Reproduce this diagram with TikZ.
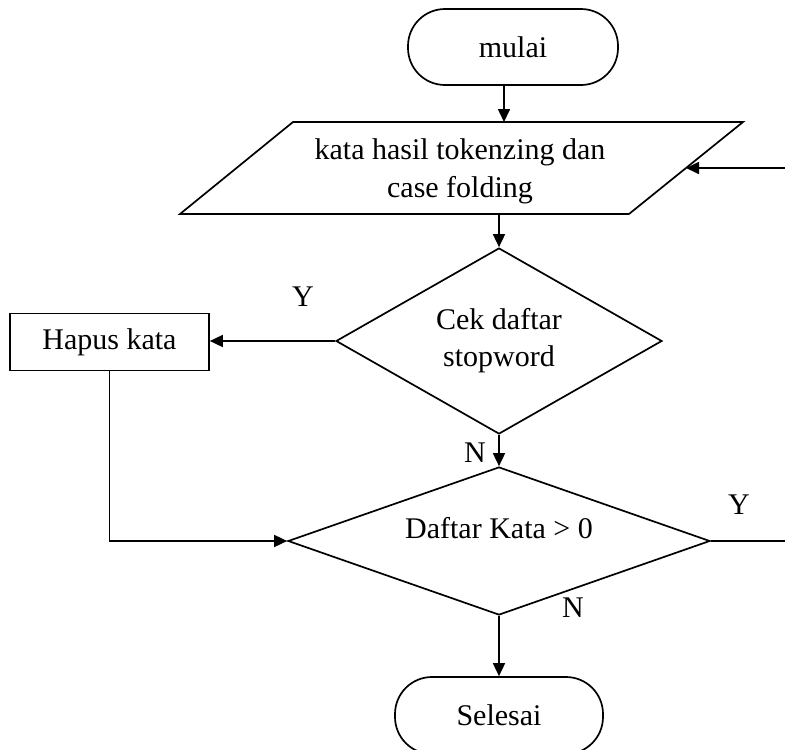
\documentclass[tikz,border=0pt]{standalone}
\usepackage{fontspec}
\setmainfont{Liberation Serif}
\usetikzlibrary{shapes.geometric, arrows.meta, calc}

\begin{document}
\begin{tikzpicture}[x=1pt, y=-1pt,
  every node/.style={font=\fontsize{30}{38}\selectfont},
  base/.style={draw, line width=1.7pt, inner sep=0pt},
  terminal/.style={base, rectangle, rounded corners=37pt},
  process/.style={base, rectangle},
  decision/.style={base, diamond, shape aspect=1.75, align=center},
  conn/.style={line width=1.7pt},
  outline/.style={conn, line join=miter},
  arrow/.style={conn, -{Triangle[length=13pt, width=12pt]}},
  tag/.style={inner sep=0pt}]

\useasboundingbox (0,0) rectangle (785,750);

% input/output parallelogram
\coordinate (pTL) at (293,122);
\coordinate (pTR) at (743,122);
\coordinate (pBR) at (629,214);
\coordinate (pBL) at (180,214);
\draw[outline] (pTL) -- (pTR) -- (pBR) -- (pBL) -- cycle;
\node[align=center, inner sep=0pt] (input) at (460,171) {kata hasil tokenzing dan\\case folding};
\coordinate (inputSide) at ($(pTR)!0.5!(pBR)$);

% other shapes
\node[terminal, minimum width=210pt, minimum height=76pt] (start) at (513,47) {mulai};
\node[decision, minimum width=326pt, minimum height=186pt,
  font=\fontsize{30}{37}\selectfont] (check) at (499,341) {Cek daftar\\stopword};
\node[process, minimum width=199pt, minimum height=57pt] (remove) at (109.5,342) {Hapus kata};
\node[decision, minimum width=422pt, minimum height=148pt,
  label={[yshift=13pt]center:Daftar Kata > 0}] (count) at (499,541) {};
\node[terminal, minimum width=208pt, minimum height=77pt] (stop) at (499,715.5) {Selesai};

% loop ends leaving the sheet on the right
\coordinate (backIn) at (785,168);
\coordinate (backOut) at (785,541);

% connectors
\draw[arrow] ([xshift=-9pt]start.south) -- ([xshift=-9pt]start.south |- pTL);
\draw[arrow] (check.north |- pBL) -- (check.north);
\draw[arrow] (check.west) -- (check.west -| remove.east);
\draw[arrow] (check.south) -- (count.north);
\draw[arrow] (remove.south) |- (count.west);
\draw[conn] (count.east) -- (backOut);
\draw[arrow] (backIn) -- (inputSide);
\draw[arrow] (count.south) -- (stop.north);

% branch labels
\node[tag] (yesA) at (303,297) {Y};
\node[tag] (noA) at (475,453) {N};
\node[tag] (yesB) at (739,505) {Y};
\node[tag] (noB) at (573,608) {N};
\end{tikzpicture}
\end{document}
